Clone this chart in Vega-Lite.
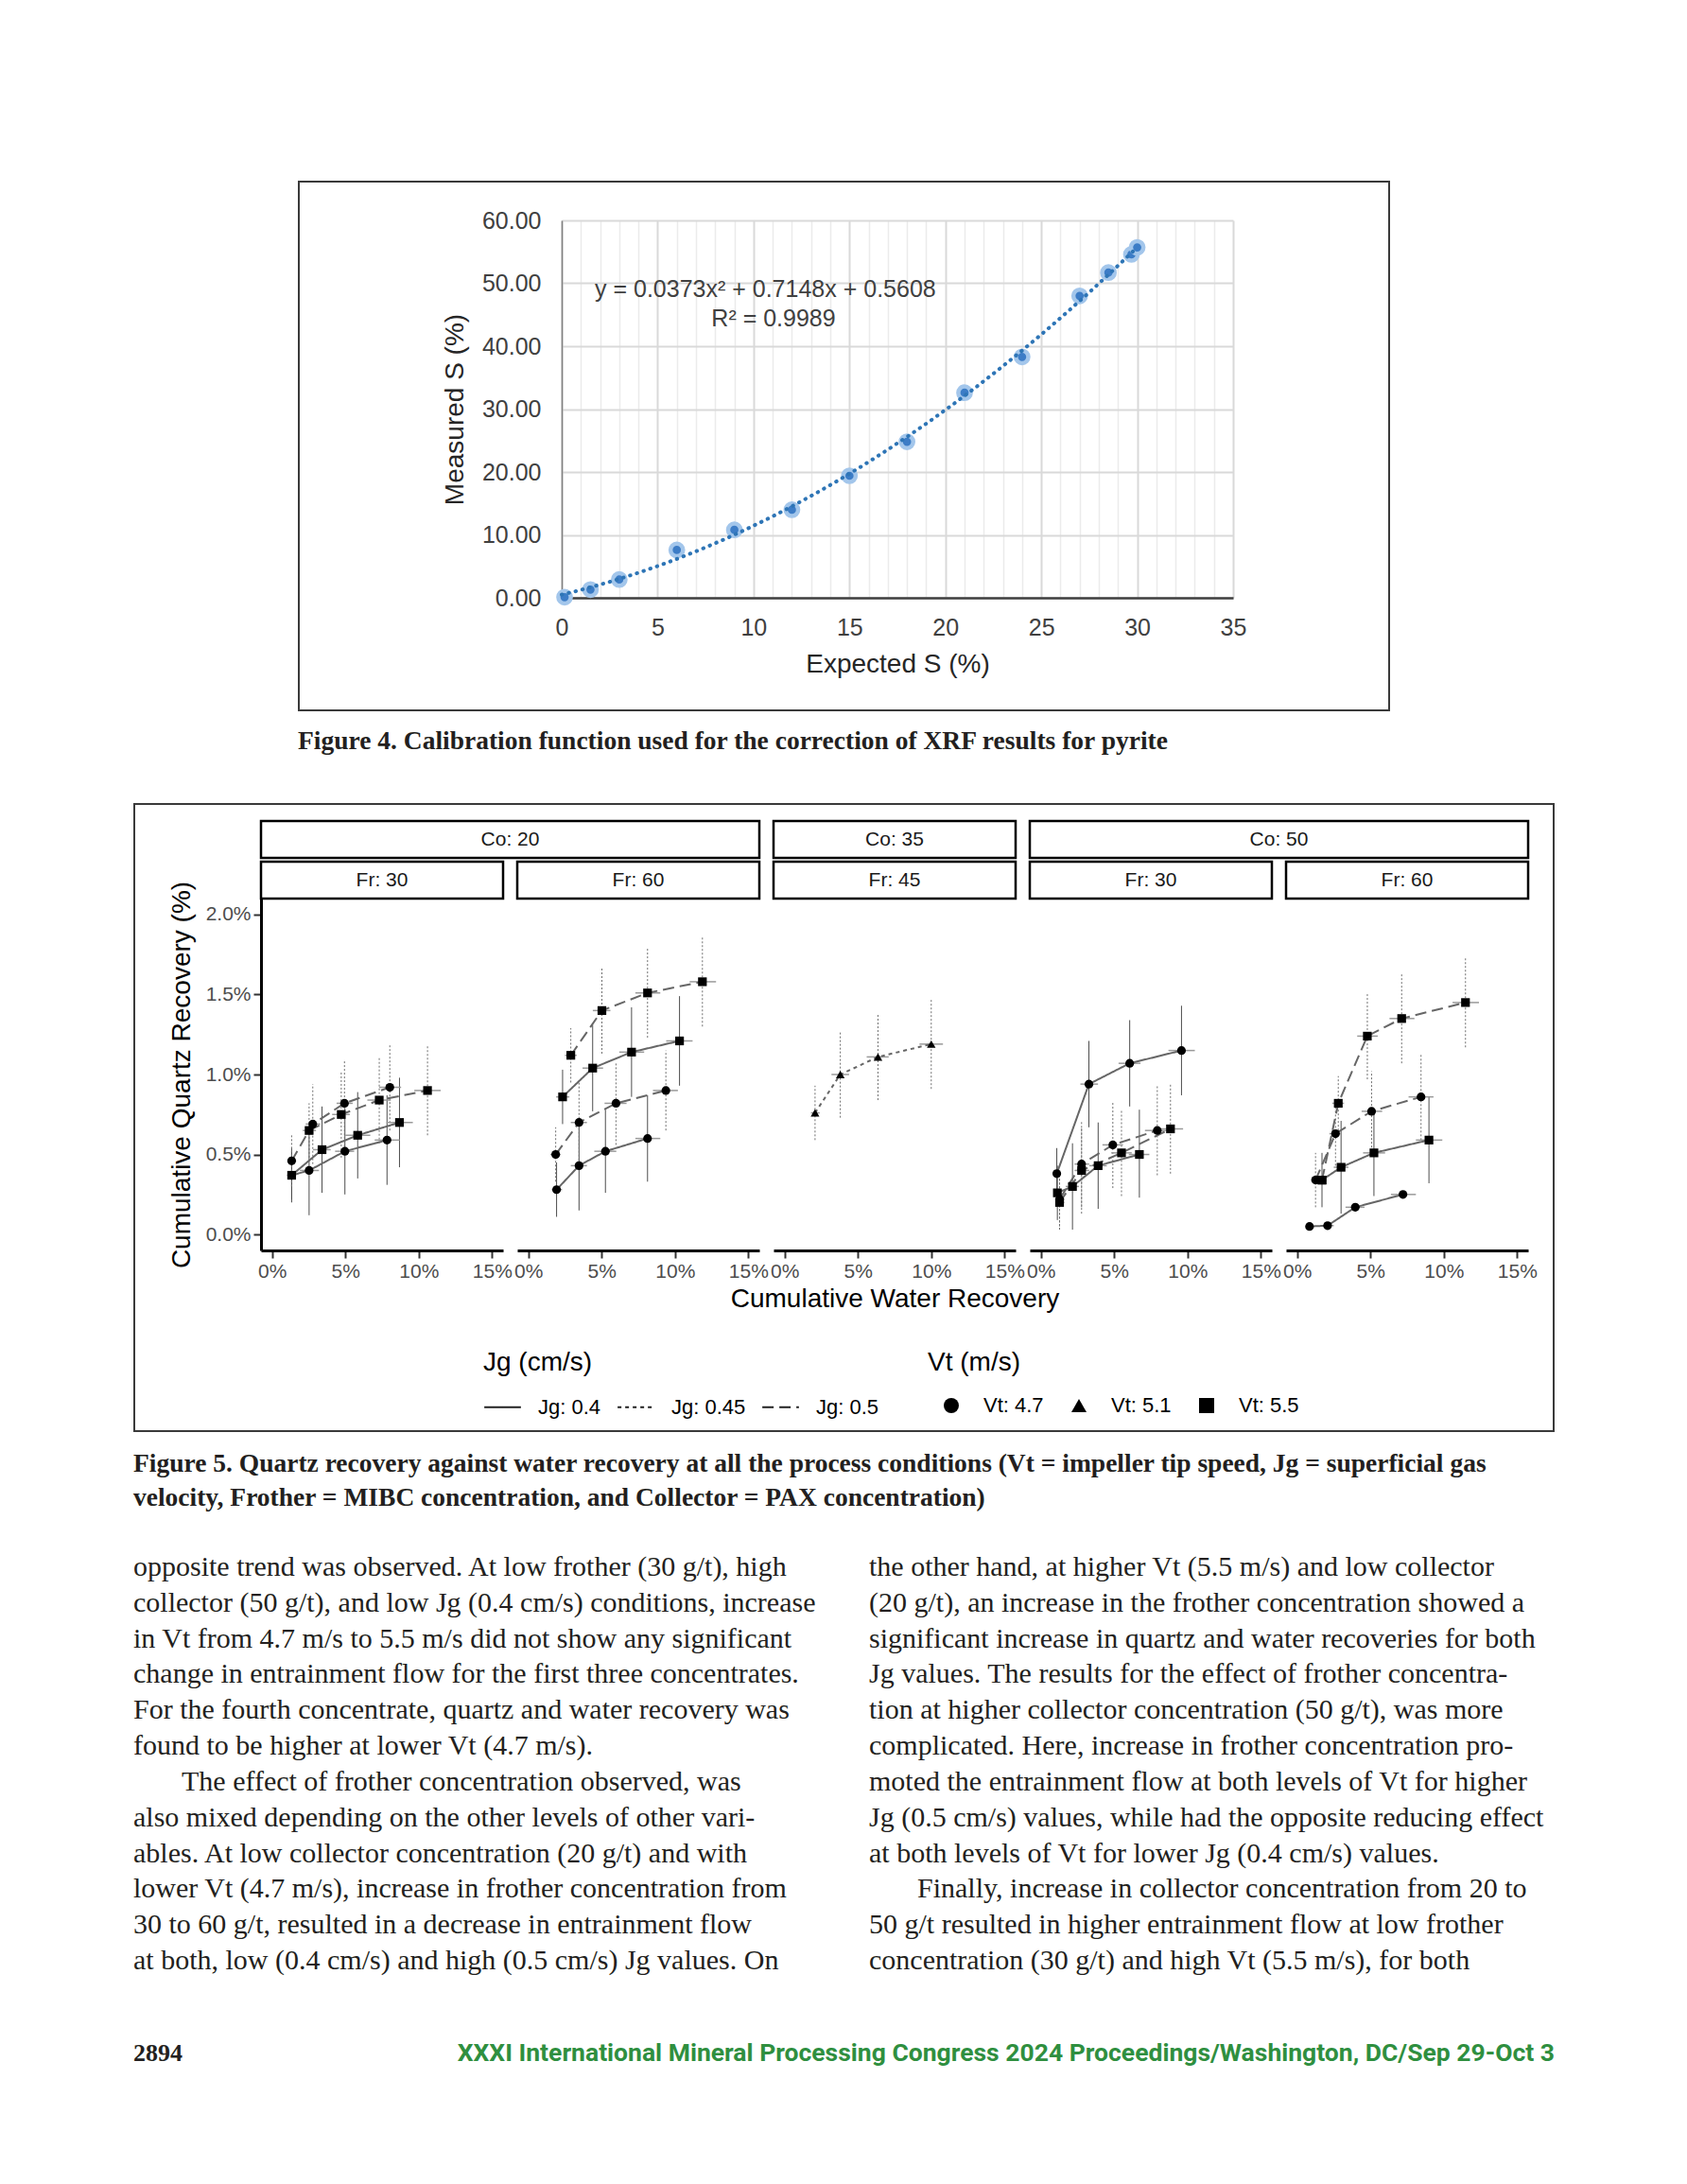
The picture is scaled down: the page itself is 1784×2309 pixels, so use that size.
{
"$schema": "https://vega.github.io/schema/vega-lite/v6.json",
"background": "white",
"padding": 0,
"bounds": "flush",
"spacing": 0,
"data": {"values": []},
"datasets": {
"f4": [
{"es":0.15,"ms":0.1},{"es":1.5,"ms":1.3},{"es":3,"ms":2.9},{"es":6,"ms":7.6},{"es":9,"ms":10.8},{"es":12,"ms":14.0},{"es":15,"ms":19.4},{"es":18,"ms":24.8},{"es":21,"ms":32.6},{"es":24,"ms":38.3},{"es":27,"ms":48.0},{"es":28.5,"ms":51.7},{"es":29.7,"ms":54.6},{"es":30,"ms":55.7}
],
"f5": [
{"p":"A","Jg":"Jg: 0.4","Vt":"Vt: 4.7","x":1.34,"y":0.37,"ylo":0.2,"yhi":0.54,"xlo":1.1,"xhi":1.6},
{"p":"A","Jg":"Jg: 0.4","Vt":"Vt: 4.7","x":2.53,"y":0.4,"ylo":0.12,"yhi":0.68,"xlo":1.9,"xhi":3.2},
{"p":"A","Jg":"Jg: 0.4","Vt":"Vt: 4.7","x":4.97,"y":0.52,"ylo":0.25,"yhi":0.79,"xlo":4.3,"xhi":5.6},
{"p":"A","Jg":"Jg: 0.4","Vt":"Vt: 4.7","x":7.84,"y":0.59,"ylo":0.31,"yhi":0.87,"xlo":7.0,"xhi":8.7},
{"p":"A","Jg":"Jg: 0.4","Vt":"Vt: 5.5","x":1.34,"y":0.37,"ylo":0.22,"yhi":0.52,"xlo":1.1,"xhi":1.6},
{"p":"A","Jg":"Jg: 0.4","Vt":"Vt: 5.5","x":3.41,"y":0.53,"ylo":0.26,"yhi":0.8,"xlo":2.8,"xhi":4.0},
{"p":"A","Jg":"Jg: 0.4","Vt":"Vt: 5.5","x":5.84,"y":0.62,"ylo":0.35,"yhi":0.89,"xlo":5.0,"xhi":6.7},
{"p":"A","Jg":"Jg: 0.4","Vt":"Vt: 5.5","x":8.69,"y":0.7,"ylo":0.42,"yhi":0.98,"xlo":7.8,"xhi":9.6},
{"p":"A","Jg":"Jg: 0.5","Vt":"Vt: 4.7","x":1.34,"y":0.46,"ylo":0.3,"yhi":0.62,"xlo":1.1,"xhi":1.6},
{"p":"A","Jg":"Jg: 0.5","Vt":"Vt: 4.7","x":2.78,"y":0.69,"ylo":0.44,"yhi":0.94,"xlo":2.3,"xhi":3.3},
{"p":"A","Jg":"Jg: 0.5","Vt":"Vt: 4.7","x":4.94,"y":0.82,"ylo":0.55,"yhi":1.09,"xlo":4.4,"xhi":5.5},
{"p":"A","Jg":"Jg: 0.5","Vt":"Vt: 4.7","x":8.03,"y":0.92,"ylo":0.65,"yhi":1.19,"xlo":7.3,"xhi":8.8},
{"p":"A","Jg":"Jg: 0.5","Vt":"Vt: 5.5","x":2.53,"y":0.65,"ylo":0.48,"yhi":0.82,"xlo":2.1,"xhi":3.0},
{"p":"A","Jg":"Jg: 0.5","Vt":"Vt: 5.5","x":4.72,"y":0.75,"ylo":0.48,"yhi":1.02,"xlo":4.1,"xhi":5.3},
{"p":"A","Jg":"Jg: 0.5","Vt":"Vt: 5.5","x":7.31,"y":0.84,"ylo":0.57,"yhi":1.11,"xlo":6.5,"xhi":8.1},
{"p":"A","Jg":"Jg: 0.5","Vt":"Vt: 5.5","x":10.6,"y":0.9,"ylo":0.62,"yhi":1.18,"xlo":9.7,"xhi":11.5},
{"p":"B","Jg":"Jg: 0.5","Vt":"Vt: 5.5","x":2.9,"y":1.12,"ylo":0.95,"yhi":1.29,"xlo":2.5,"xhi":3.3},
{"p":"B","Jg":"Jg: 0.5","Vt":"Vt: 5.5","x":5.02,"y":1.4,"ylo":1.13,"yhi":1.67,"xlo":4.4,"xhi":5.6},
{"p":"B","Jg":"Jg: 0.5","Vt":"Vt: 5.5","x":8.13,"y":1.51,"ylo":1.23,"yhi":1.79,"xlo":7.3,"xhi":9.0},
{"p":"B","Jg":"Jg: 0.5","Vt":"Vt: 5.5","x":11.87,"y":1.58,"ylo":1.3,"yhi":1.86,"xlo":11.0,"xhi":12.8},
{"p":"B","Jg":"Jg: 0.4","Vt":"Vt: 5.5","x":2.34,"y":0.86,"ylo":0.69,"yhi":1.03,"xlo":1.9,"xhi":2.8},
{"p":"B","Jg":"Jg: 0.4","Vt":"Vt: 5.5","x":4.39,"y":1.04,"ylo":0.77,"yhi":1.31,"xlo":3.7,"xhi":5.1},
{"p":"B","Jg":"Jg: 0.4","Vt":"Vt: 5.5","x":7.04,"y":1.14,"ylo":0.86,"yhi":1.42,"xlo":6.2,"xhi":7.9},
{"p":"B","Jg":"Jg: 0.4","Vt":"Vt: 5.5","x":10.31,"y":1.21,"ylo":0.93,"yhi":1.49,"xlo":9.4,"xhi":11.2},
{"p":"B","Jg":"Jg: 0.5","Vt":"Vt: 4.7","x":1.87,"y":0.5,"ylo":0.33,"yhi":0.67,"xlo":1.5,"xhi":2.2},
{"p":"B","Jg":"Jg: 0.5","Vt":"Vt: 4.7","x":3.46,"y":0.7,"ylo":0.44,"yhi":0.96,"xlo":2.9,"xhi":4.0},
{"p":"B","Jg":"Jg: 0.5","Vt":"Vt: 4.7","x":5.98,"y":0.82,"ylo":0.56,"yhi":1.08,"xlo":5.2,"xhi":6.7},
{"p":"B","Jg":"Jg: 0.5","Vt":"Vt: 4.7","x":9.38,"y":0.9,"ylo":0.65,"yhi":1.15,"xlo":8.5,"xhi":10.2},
{"p":"B","Jg":"Jg: 0.4","Vt":"Vt: 4.7","x":1.93,"y":0.28,"ylo":0.11,"yhi":0.45,"xlo":1.6,"xhi":2.3},
{"p":"B","Jg":"Jg: 0.4","Vt":"Vt: 4.7","x":3.46,"y":0.43,"ylo":0.15,"yhi":0.71,"xlo":2.9,"xhi":4.0},
{"p":"B","Jg":"Jg: 0.4","Vt":"Vt: 4.7","x":5.26,"y":0.52,"ylo":0.26,"yhi":0.78,"xlo":4.5,"xhi":6.0},
{"p":"B","Jg":"Jg: 0.4","Vt":"Vt: 4.7","x":8.13,"y":0.6,"ylo":0.33,"yhi":0.87,"xlo":7.3,"xhi":9.0},
{"p":"C","Jg":"Jg: 0.45","Vt":"Vt: 5.1","x":2.08,"y":0.76,"ylo":0.59,"yhi":0.93,"xlo":1.8,"xhi":2.4},
{"p":"C","Jg":"Jg: 0.45","Vt":"Vt: 5.1","x":3.8,"y":1.0,"ylo":0.73,"yhi":1.27,"xlo":3.2,"xhi":4.4},
{"p":"C","Jg":"Jg: 0.45","Vt":"Vt: 5.1","x":6.37,"y":1.11,"ylo":0.84,"yhi":1.38,"xlo":5.6,"xhi":7.1},
{"p":"C","Jg":"Jg: 0.45","Vt":"Vt: 5.1","x":10.0,"y":1.19,"ylo":0.91,"yhi":1.47,"xlo":9.2,"xhi":10.8},
{"p":"D","Jg":"Jg: 0.4","Vt":"Vt: 4.7","x":1.09,"y":0.38,"ylo":0.22,"yhi":0.54,"xlo":0.9,"xhi":1.3},
{"p":"D","Jg":"Jg: 0.4","Vt":"Vt: 4.7","x":3.28,"y":0.94,"ylo":0.67,"yhi":1.21,"xlo":2.7,"xhi":3.9},
{"p":"D","Jg":"Jg: 0.4","Vt":"Vt: 4.7","x":6.06,"y":1.07,"ylo":0.8,"yhi":1.34,"xlo":5.3,"xhi":6.8},
{"p":"D","Jg":"Jg: 0.4","Vt":"Vt: 4.7","x":9.59,"y":1.15,"ylo":0.87,"yhi":1.43,"xlo":8.7,"xhi":10.5},
{"p":"D","Jg":"Jg: 0.4","Vt":"Vt: 5.5","x":1.13,"y":0.26,"ylo":0.09,"yhi":0.43,"xlo":0.9,"xhi":1.4},
{"p":"D","Jg":"Jg: 0.4","Vt":"Vt: 5.5","x":2.16,"y":0.3,"ylo":0.03,"yhi":0.57,"xlo":1.7,"xhi":2.6},
{"p":"D","Jg":"Jg: 0.4","Vt":"Vt: 5.5","x":3.91,"y":0.43,"ylo":0.16,"yhi":0.7,"xlo":3.3,"xhi":4.5},
{"p":"D","Jg":"Jg: 0.4","Vt":"Vt: 5.5","x":6.72,"y":0.5,"ylo":0.23,"yhi":0.78,"xlo":6.0,"xhi":7.4},
{"p":"D","Jg":"Jg: 0.5","Vt":"Vt: 4.7","x":1.28,"y":0.22,"ylo":0.05,"yhi":0.39,"xlo":1.0,"xhi":1.6},
{"p":"D","Jg":"Jg: 0.5","Vt":"Vt: 4.7","x":2.78,"y":0.44,"ylo":0.17,"yhi":0.71,"xlo":2.3,"xhi":3.3},
{"p":"D","Jg":"Jg: 0.5","Vt":"Vt: 4.7","x":4.91,"y":0.56,"ylo":0.29,"yhi":0.83,"xlo":4.2,"xhi":5.6},
{"p":"D","Jg":"Jg: 0.5","Vt":"Vt: 4.7","x":7.94,"y":0.65,"ylo":0.37,"yhi":0.93,"xlo":7.1,"xhi":8.8},
{"p":"D","Jg":"Jg: 0.5","Vt":"Vt: 5.5","x":1.28,"y":0.2,"ylo":0.03,"yhi":0.37,"xlo":1.0,"xhi":1.6},
{"p":"D","Jg":"Jg: 0.5","Vt":"Vt: 5.5","x":2.78,"y":0.4,"ylo":0.13,"yhi":0.67,"xlo":2.3,"xhi":3.3},
{"p":"D","Jg":"Jg: 0.5","Vt":"Vt: 5.5","x":5.5,"y":0.51,"ylo":0.24,"yhi":0.78,"xlo":4.8,"xhi":6.2},
{"p":"D","Jg":"Jg: 0.5","Vt":"Vt: 5.5","x":8.84,"y":0.66,"ylo":0.38,"yhi":0.94,"xlo":8.0,"xhi":9.7},
{"p":"E","Jg":"Jg: 0.4","Vt":"Vt: 4.7","x":0.85,"y":0.05,"ylo":0.05,"yhi":0.05,"xlo":0.6,"xhi":1.1},
{"p":"E","Jg":"Jg: 0.4","Vt":"Vt: 4.7","x":2.08,"y":0.055,"ylo":0.055,"yhi":0.055,"xlo":1.7,"xhi":2.5},
{"p":"E","Jg":"Jg: 0.4","Vt":"Vt: 4.7","x":3.97,"y":0.17,"ylo":0.17,"yhi":0.17,"xlo":3.3,"xhi":4.6},
{"p":"E","Jg":"Jg: 0.4","Vt":"Vt: 4.7","x":7.22,"y":0.25,"ylo":0.25,"yhi":0.25,"xlo":6.4,"xhi":8.1},
{"p":"E","Jg":"Jg: 0.4","Vt":"Vt: 5.5","x":1.7,"y":0.34,"ylo":0.17,"yhi":0.51,"xlo":1.4,"xhi":2.0},
{"p":"E","Jg":"Jg: 0.4","Vt":"Vt: 5.5","x":3.0,"y":0.42,"ylo":0.13,"yhi":0.71,"xlo":2.5,"xhi":3.5},
{"p":"E","Jg":"Jg: 0.4","Vt":"Vt: 5.5","x":5.24,"y":0.51,"ylo":0.24,"yhi":0.78,"xlo":4.5,"xhi":6.0},
{"p":"E","Jg":"Jg: 0.4","Vt":"Vt: 5.5","x":8.99,"y":0.59,"ylo":0.32,"yhi":0.86,"xlo":8.1,"xhi":9.9},
{"p":"E","Jg":"Jg: 0.5","Vt":"Vt: 4.7","x":1.26,"y":0.34,"ylo":0.17,"yhi":0.51,"xlo":1.0,"xhi":1.5},
{"p":"E","Jg":"Jg: 0.5","Vt":"Vt: 4.7","x":2.62,"y":0.63,"ylo":0.43,"yhi":0.83,"xlo":2.2,"xhi":3.0},
{"p":"E","Jg":"Jg: 0.5","Vt":"Vt: 4.7","x":5.08,"y":0.77,"ylo":0.52,"yhi":1.02,"xlo":4.4,"xhi":5.8},
{"p":"E","Jg":"Jg: 0.5","Vt":"Vt: 4.7","x":8.45,"y":0.86,"ylo":0.59,"yhi":1.13,"xlo":7.6,"xhi":9.3},
{"p":"E","Jg":"Jg: 0.5","Vt":"Vt: 5.5","x":1.7,"y":0.34,"ylo":0.34,"yhi":0.34,"xlo":1.7,"xhi":1.7},
{"p":"E","Jg":"Jg: 0.5","Vt":"Vt: 5.5","x":2.81,"y":0.82,"ylo":0.65,"yhi":0.99,"xlo":2.4,"xhi":3.2},
{"p":"E","Jg":"Jg: 0.5","Vt":"Vt: 5.5","x":4.79,"y":1.24,"ylo":0.97,"yhi":1.51,"xlo":4.1,"xhi":5.5},
{"p":"E","Jg":"Jg: 0.5","Vt":"Vt: 5.5","x":7.13,"y":1.35,"ylo":1.07,"yhi":1.63,"xlo":6.3,"xhi":8.0},
{"p":"E","Jg":"Jg: 0.5","Vt":"Vt: 5.5","x":11.48,"y":1.45,"ylo":1.17,"yhi":1.73,"xlo":10.6,"xhi":12.4}
]
},
"config": {"view": {"stroke": null}, "concat": {"spacing": 0}, "font": "Liberation Sans"},
"vconcat": [
{"width": 1784, "height": 191, "mark": "point", "view": {"fill": "white"}},
{"bounds": "flush", "hconcat": [{"width": 315, "height": 2, "mark": "point"}, {"width": 1155, "height": 2, "mark": "point", "view": {"fill": "#3a3a3a"}}]},
{"width": 1784, "height": 2, "mark": "point"},
{"bounds": "flush", "hconcat": [
  {"width": 315, "height": 557, "mark": "point"},
  {"width": 2, "height": 557, "mark": "point", "view": {"fill": "#3a3a3a"}},
  {"width": 277, "height": 557, "mark": "point"},
  {"bounds": "flush", "vconcat": [
    {"width": 710, "height": 40, "mark": "point"},
    {"width": 710, "height": 399, "data": {"name": "f4"},
     "resolve": {"axis": {"x": "independent"}},
     "layer": [
      {"mark": {"type": "point", "filled": true, "fill": "#3C7CC6", "stroke": "#A3C6EB", "strokeWidth": 4.5, "size": 175, "opacity": 1},
       "encoding": {
        "x": {"field": "es", "type": "quantitative", "scale": {"domain": [0, 35], "nice": false, "zero": false},
              "axis": {"orient": "bottom", "values": [0,5,10,15,20,25,30,35], "format": "d", "ticks": false, "domain": true, "domainColor": "#404040", "domainWidth": 2.5, "grid": true, "gridColor": "#D9D9D9", "gridWidth": 2, "labelFontSize": 25, "labelColor": "#404040", "labelPadding": 19, "labelFlush": false, "labelOverlap": false, "title": "Expected S (%)", "titleFontSize": 28, "titleFontWeight": "normal", "titleColor": "#262626", "titlePadding": 12}},
        "y": {"field": "ms", "type": "quantitative", "scale": {"domain": [0, 60], "nice": false, "zero": false},
              "axis": {"values": [0,10,20,30,40,50,60], "format": ".2f", "ticks": false, "domain": true, "domainColor": "#7F7F7F", "domainWidth": 1.5, "grid": true, "gridColor": "#D9D9D9", "gridWidth": 2, "labelFontSize": 25, "labelColor": "#404040", "labelPadding": 22, "labelFlush": false, "labelOverlap": false, "title": "Measured S (%)", "titleFontSize": 28, "titleFontWeight": "normal", "titleColor": "#262626", "titlePadding": 14}}
       }},
      {"transform": [{"regression": "ms", "on": "es", "method": "poly", "order": 2, "extent": [0, 30]}],
       "mark": {"type": "line", "color": "#2E75B6", "strokeWidth": 4, "strokeDash": [0.5, 7], "strokeCap": "round"},
       "encoding": {
        "x": {"field": "es", "type": "quantitative", "scale": {"domain": [0, 35], "nice": false, "zero": false},
              "axis": {"orient": "top", "values": [1,2,3,4,6,7,8,9,11,12,13,14,16,17,18,19,21,22,23,24,26,27,28,29,31,32,33,34], "grid": true, "gridColor": "#EBEBEB", "gridWidth": 1.5, "labels": false, "ticks": false, "domain": false, "title": null}},
        "y": {"field": "ms", "type": "quantitative", "scale": {"domain": [0, 60], "nice": false, "zero": false},
              "axis": {"values": [0,10,20,30,40,50,60], "format": ".2f", "ticks": false, "domain": true, "domainColor": "#7F7F7F", "domainWidth": 1.5, "grid": true, "gridColor": "#D9D9D9", "gridWidth": 2, "labelFontSize": 25, "labelColor": "#404040", "labelPadding": 22, "labelFlush": false, "labelOverlap": false, "title": "Measured S (%)", "titleFontSize": 28, "titleFontWeight": "normal", "titleColor": "#262626", "titlePadding": 14}}
       }}
     ]},
    {"width": 710, "height": 118, "mark": "point"}
  ]},
  {"bounds": "flush", "vconcat": [
    {"width": 10, "height": 113, "mark": "point"},
    {"bounds": "flush", "hconcat": [
      {"width": 35, "height": 31, "mark": "point"},
      {"width": 189, "height": 31, "data": {"values": [{"col": 0, "line": 1, "t": "y = 0.0373x² + 0.7148x + 0.5608"}, {"col": 1, "line": 2, "t": "R² = 0.9989"}]},
       "encoding": {"x": {"field": "col", "type": "quantitative", "scale": {"domain": [0, 1], "nice": false, "zero": false}, "axis": null},
                    "y": {"field": "line", "type": "quantitative", "scale": {"domain": [1, 2], "reverse": true, "nice": false, "zero": false}, "axis": null},
                    "text": {"field": "t"}},
       "layer": [
        {"transform": [{"filter": "datum.col == 0"}], "mark": {"type": "text", "align": "left", "baseline": "middle", "fontSize": 25, "color": "#404040"}},
        {"transform": [{"filter": "datum.col == 1"}], "mark": {"type": "text", "align": "center", "baseline": "middle", "fontSize": 25, "color": "#404040"}}
       ]}
    ]}
  ]},
  {"width": 874, "height": 557, "mark": "point"},
  {"width": 2, "height": 557, "mark": "point", "view": {"fill": "#3a3a3a"}}
]},
{"width": 1784, "height": 557, "mark": "point"},
{"bounds": "flush", "hconcat": [{"width": 315, "height": 2, "mark": "point"}, {"width": 1155, "height": 2, "mark": "point", "view": {"fill": "#3a3a3a"}}]},
{"width": 1784, "height": 2, "mark": "point"},
{"width": 1784, "height": 32, "mark": "point"},
{"bounds": "flush", "hconcat": [{"width": 315, "height": 10, "mark": "point"},
  {"width": 1, "height": 10, "data": {"values": [{"col": 0, "line": 1, "t": "Figure 4. Calibration function used for the correction of XRF results for pyrite"}]},
   "mark": {"type": "text", "align": "left", "baseline": "middle", "font": "Liberation Serif", "fontWeight": "bold", "fontSize": 27.5, "color": "#231f20"},
   "encoding": {"x": {"field": "col", "type": "quantitative", "scale": {"domain": [0, 1], "nice": false, "zero": false}, "axis": null},
                "y": {"field": "line", "type": "quantitative", "scale": {"domain": [1, 2], "reverse": true, "nice": false, "zero": false}, "axis": null},
                "text": {"field": "t"}}}
]},
{"width": 1784, "height": 65, "mark": "point"},
{"bounds": "flush", "hconcat": [{"width": 141, "height": 2, "mark": "point"}, {"width": 1503, "height": 2, "mark": "point", "view": {"fill": "#3a3a3a"}}]},
{"width": 1784, "height": 2, "mark": "point"},
{"bounds": "flush", "hconcat": [
  {"width": 141, "height": 661, "mark": "point"},
  {"width": 2, "height": 661, "mark": "point", "view": {"fill": "#3a3a3a"}},
  {"width": 133, "height": 661, "mark": "point"},
  {"bounds": "flush", "vconcat": [
    {"width": 1340, "height": 17, "mark": "point"},
    {"bounds": "flush", "spacing": 15, "hconcat": [
      {"width": 527, "height": 39, "data": {"values": [{"s": "Co: 20"}]}, "mark": {"type": "text", "fontSize": 21, "color": "#1a1a1a", "baseline": "middle", "align": "center"}, "encoding": {"text": {"field": "s"}}, "view": {"stroke": "black", "strokeWidth": 2.5, "fill": "white"}},
      {"width": 256, "height": 39, "data": {"values": [{"s": "Co: 35"}]}, "mark": {"type": "text", "fontSize": 21, "color": "#1a1a1a", "baseline": "middle", "align": "center"}, "encoding": {"text": {"field": "s"}}, "view": {"stroke": "black", "strokeWidth": 2.5, "fill": "white"}},
      {"width": 527, "height": 39, "data": {"values": [{"s": "Co: 50"}]}, "mark": {"type": "text", "fontSize": 21, "color": "#1a1a1a", "baseline": "middle", "align": "center"}, "encoding": {"text": {"field": "s"}}, "view": {"stroke": "black", "strokeWidth": 2.5, "fill": "white"}}
    ]},
    {"width": 1340, "height": 43, "mark": "point"},
    {"bounds": "flush", "spacing": 15, "hconcat": [
      {"width": 256, "height": 39, "data": {"values": [{"s": "Fr: 30"}]}, "mark": {"type": "text", "fontSize": 21, "color": "#1a1a1a", "baseline": "middle", "align": "center"}, "encoding": {"text": {"field": "s"}}, "view": {"stroke": "black", "strokeWidth": 2.5, "fill": "white"}},
      {"width": 256, "height": 39, "data": {"values": [{"s": "Fr: 60"}]}, "mark": {"type": "text", "fontSize": 21, "color": "#1a1a1a", "baseline": "middle", "align": "center"}, "encoding": {"text": {"field": "s"}}, "view": {"stroke": "black", "strokeWidth": 2.5, "fill": "white"}},
      {"width": 256, "height": 39, "data": {"values": [{"s": "Fr: 45"}]}, "mark": {"type": "text", "fontSize": 21, "color": "#1a1a1a", "baseline": "middle", "align": "center"}, "encoding": {"text": {"field": "s"}}, "view": {"stroke": "black", "strokeWidth": 2.5, "fill": "white"}},
      {"width": 256, "height": 39, "data": {"values": [{"s": "Fr: 30"}]}, "mark": {"type": "text", "fontSize": 21, "color": "#1a1a1a", "baseline": "middle", "align": "center"}, "encoding": {"text": {"field": "s"}}, "view": {"stroke": "black", "strokeWidth": 2.5, "fill": "white"}},
      {"width": 256, "height": 39, "data": {"values": [{"s": "Fr: 60"}]}, "mark": {"type": "text", "fontSize": 21, "color": "#1a1a1a", "baseline": "middle", "align": "center"}, "encoding": {"text": {"field": "s"}}, "view": {"stroke": "black", "strokeWidth": 2.5, "fill": "white"}}
    ]},
    {"width": 1340, "height": 39, "mark": "point"},
    {"bounds": "flush", "spacing": 15,
     "resolve": {"scale": {"shape": "independent", "strokeDash": "independent"}, "legend": {"shape": "independent", "strokeDash": "independent"}},
     "hconcat": [
      {"width": 256, "height": 372, "data": {"name": "f5"}, "transform": [{"filter": "datum.p == 'A'"}],
       "layer": [
        {"transform": [{"filter": "datum.Jg == 'Jg: 0.4'"}], "mark": {"type": "rule", "color": "#4d4d4d", "strokeWidth": 1},
         "encoding": {
          "x": {"field": "x", "type": "quantitative", "scale": {"domain": [-0.75, 15.75], "nice": false, "zero": false}, "axis": {"values": [0,5,10,15], "labelExpr": "datum.value + '%'", "domain": true, "domainColor": "black", "domainWidth": 3, "tickColor": "#333333", "tickWidth": 2, "tickSize": 8, "labelFontSize": 21, "labelColor": "#4d4d4d", "labelPadding": 3, "labelFlush": false, "labelOverlap": false, "labelBound": false, "grid": false, "title": null}},
          "y": {"field": "ylo", "type": "quantitative", "scale": {"domain": [-0.1, 2.1], "nice": false, "zero": false}, "axis": {"values": [0,0.5,1,1.5,2], "labelExpr": "format(datum.value, '.1f') + '%'", "domain": true, "domainColor": "black", "domainWidth": 3, "tickColor": "#333333", "tickWidth": 2, "tickSize": 8, "labelFontSize": 21, "labelColor": "#4d4d4d", "labelPadding": 3, "labelFlush": false, "labelOverlap": false, "grid": false, "title": "Cumulative Quartz Recovery (%)", "titleFontSize": 28, "titleFontWeight": "normal", "titleColor": "black", "titlePadding": 11}},
          "y2": {"field": "yhi"}}},
        {"transform": [{"filter": "datum.Jg != 'Jg: 0.4'"}], "mark": {"type": "rule", "color": "#6e6e6e", "strokeWidth": 1, "strokeDash": [2, 2]},
         "encoding": {
          "x": {"field": "x", "type": "quantitative", "scale": {"domain": [-0.75, 15.75], "nice": false, "zero": false}, "axis": {"values": [0,5,10,15], "labelExpr": "datum.value + '%'", "domain": true, "domainColor": "black", "domainWidth": 3, "tickColor": "#333333", "tickWidth": 2, "tickSize": 8, "labelFontSize": 21, "labelColor": "#4d4d4d", "labelPadding": 3, "labelFlush": false, "labelOverlap": false, "labelBound": false, "grid": false, "title": null}},
          "y": {"field": "ylo", "type": "quantitative", "scale": {"domain": [-0.1, 2.1], "nice": false, "zero": false}, "axis": {"values": [0,0.5,1,1.5,2], "labelExpr": "format(datum.value, '.1f') + '%'", "domain": true, "domainColor": "black", "domainWidth": 3, "tickColor": "#333333", "tickWidth": 2, "tickSize": 8, "labelFontSize": 21, "labelColor": "#4d4d4d", "labelPadding": 3, "labelFlush": false, "labelOverlap": false, "grid": false, "title": "Cumulative Quartz Recovery (%)", "titleFontSize": 28, "titleFontWeight": "normal", "titleColor": "black", "titlePadding": 11}},
          "y2": {"field": "yhi"}}},
        {"mark": {"type": "rule", "color": "#9a9a9a", "strokeWidth": 1.5},
         "encoding": {
          "x": {"field": "xlo", "type": "quantitative", "scale": {"domain": [-0.75, 15.75], "nice": false, "zero": false}, "axis": {"values": [0,5,10,15], "labelExpr": "datum.value + '%'", "domain": true, "domainColor": "black", "domainWidth": 3, "tickColor": "#333333", "tickWidth": 2, "tickSize": 8, "labelFontSize": 21, "labelColor": "#4d4d4d", "labelPadding": 3, "labelFlush": false, "labelOverlap": false, "labelBound": false, "grid": false, "title": null}},
          "x2": {"field": "xhi"},
          "y": {"field": "y", "type": "quantitative", "scale": {"domain": [-0.1, 2.1], "nice": false, "zero": false}, "axis": {"values": [0,0.5,1,1.5,2], "labelExpr": "format(datum.value, '.1f') + '%'", "domain": true, "domainColor": "black", "domainWidth": 3, "tickColor": "#333333", "tickWidth": 2, "tickSize": 8, "labelFontSize": 21, "labelColor": "#4d4d4d", "labelPadding": 3, "labelFlush": false, "labelOverlap": false, "grid": false, "title": "Cumulative Quartz Recovery (%)", "titleFontSize": 28, "titleFontWeight": "normal", "titleColor": "black", "titlePadding": 11}}}},
        {"mark": {"type": "line", "color": "#666666", "strokeWidth": 2},
         "encoding": {
          "x": {"field": "x", "type": "quantitative", "scale": {"domain": [-0.75, 15.75], "nice": false, "zero": false}, "axis": {"values": [0,5,10,15], "labelExpr": "datum.value + '%'", "domain": true, "domainColor": "black", "domainWidth": 3, "tickColor": "#333333", "tickWidth": 2, "tickSize": 8, "labelFontSize": 21, "labelColor": "#4d4d4d", "labelPadding": 3, "labelFlush": false, "labelOverlap": false, "labelBound": false, "grid": false, "title": null}},
          "y": {"field": "y", "type": "quantitative", "scale": {"domain": [-0.1, 2.1], "nice": false, "zero": false}, "axis": {"values": [0,0.5,1,1.5,2], "labelExpr": "format(datum.value, '.1f') + '%'", "domain": true, "domainColor": "black", "domainWidth": 3, "tickColor": "#333333", "tickWidth": 2, "tickSize": 8, "labelFontSize": 21, "labelColor": "#4d4d4d", "labelPadding": 3, "labelFlush": false, "labelOverlap": false, "grid": false, "title": "Cumulative Quartz Recovery (%)", "titleFontSize": 28, "titleFontWeight": "normal", "titleColor": "black", "titlePadding": 11}},
          "strokeDash": {"field": "Jg", "type": "nominal", "scale": {"domain": ["Jg: 0.4", "Jg: 0.45", "Jg: 0.5"], "range": [[1, 0], [4, 4], [12, 6]]},
                "legend": {"orient": "none", "legendX": 235, "legendY": 477, "direction": "horizontal", "title": "Jg (cm/s)", "titleOrient": "top", "titleAnchor": "start", "titleFontSize": 28, "titleFontWeight": "normal", "titleColor": "black", "titlePadding": 12, "labelFontSize": 22, "labelColor": "black", "labelOffset": 17, "columnPadding": 13, "symbolType": "stroke", "symbolSize": 1500, "symbolStrokeWidth": 2, "symbolStrokeColor": "#222222", "padding": 0}},
          "detail": {"field": "Vt"}}},
        {"mark": {"type": "point", "filled": true, "color": "black", "size": 85, "opacity": 1},
         "encoding": {
          "x": {"field": "x", "type": "quantitative", "scale": {"domain": [-0.75, 15.75], "nice": false, "zero": false}, "axis": {"values": [0,5,10,15], "labelExpr": "datum.value + '%'", "domain": true, "domainColor": "black", "domainWidth": 3, "tickColor": "#333333", "tickWidth": 2, "tickSize": 8, "labelFontSize": 21, "labelColor": "#4d4d4d", "labelPadding": 3, "labelFlush": false, "labelOverlap": false, "labelBound": false, "grid": false, "title": null}},
          "y": {"field": "y", "type": "quantitative", "scale": {"domain": [-0.1, 2.1], "nice": false, "zero": false}, "axis": {"values": [0,0.5,1,1.5,2], "labelExpr": "format(datum.value, '.1f') + '%'", "domain": true, "domainColor": "black", "domainWidth": 3, "tickColor": "#333333", "tickWidth": 2, "tickSize": 8, "labelFontSize": 21, "labelColor": "#4d4d4d", "labelPadding": 3, "labelFlush": false, "labelOverlap": false, "grid": false, "title": "Cumulative Quartz Recovery (%)", "titleFontSize": 28, "titleFontWeight": "normal", "titleColor": "black", "titlePadding": 11}},
          "shape": {"field": "Vt", "type": "nominal", "scale": {"domain": ["Vt: 4.7", "Vt: 5.1", "Vt: 5.5"], "range": ["circle", "triangle-up", "square"]},
                "legend": {"orient": "none", "legendX": 705, "legendY": 477, "direction": "horizontal", "title": "Vt (m/s)", "titleOrient": "top", "titleAnchor": "start", "titleFontSize": 28, "titleFontWeight": "normal", "titleColor": "black", "titlePadding": 20, "labelFontSize": 22, "labelColor": "black", "labelOffset": 23, "columnPadding": 12, "symbolSize": 256, "symbolOffset": 14, "symbolFillColor": "black", "symbolStrokeColor": "black", "padding": 0}}}}
       ]},
      {"width": 256, "height": 372, "data": {"name": "f5"}, "transform": [{"filter": "datum.p == 'B'"}],
       "layer": [
        {"transform": [{"filter": "datum.Jg == 'Jg: 0.4'"}], "mark": {"type": "rule", "color": "#4d4d4d", "strokeWidth": 1},
         "encoding": {
          "x": {"field": "x", "type": "quantitative", "scale": {"domain": [-0.75, 15.75], "nice": false, "zero": false}, "axis": {"values": [0,5,10,15], "labelExpr": "datum.value + '%'", "domain": true, "domainColor": "black", "domainWidth": 3, "tickColor": "#333333", "tickWidth": 2, "tickSize": 8, "labelFontSize": 21, "labelColor": "#4d4d4d", "labelPadding": 3, "labelFlush": false, "labelOverlap": false, "labelBound": false, "grid": false, "title": null}},
          "y": {"field": "ylo", "type": "quantitative", "scale": {"domain": [-0.1, 2.1], "nice": false, "zero": false}, "axis": null},
          "y2": {"field": "yhi"}}},
        {"transform": [{"filter": "datum.Jg != 'Jg: 0.4'"}], "mark": {"type": "rule", "color": "#6e6e6e", "strokeWidth": 1, "strokeDash": [2, 2]},
         "encoding": {
          "x": {"field": "x", "type": "quantitative", "scale": {"domain": [-0.75, 15.75], "nice": false, "zero": false}, "axis": {"values": [0,5,10,15], "labelExpr": "datum.value + '%'", "domain": true, "domainColor": "black", "domainWidth": 3, "tickColor": "#333333", "tickWidth": 2, "tickSize": 8, "labelFontSize": 21, "labelColor": "#4d4d4d", "labelPadding": 3, "labelFlush": false, "labelOverlap": false, "labelBound": false, "grid": false, "title": null}},
          "y": {"field": "ylo", "type": "quantitative", "scale": {"domain": [-0.1, 2.1], "nice": false, "zero": false}, "axis": null},
          "y2": {"field": "yhi"}}},
        {"mark": {"type": "rule", "color": "#9a9a9a", "strokeWidth": 1.5},
         "encoding": {
          "x": {"field": "xlo", "type": "quantitative", "scale": {"domain": [-0.75, 15.75], "nice": false, "zero": false}, "axis": {"values": [0,5,10,15], "labelExpr": "datum.value + '%'", "domain": true, "domainColor": "black", "domainWidth": 3, "tickColor": "#333333", "tickWidth": 2, "tickSize": 8, "labelFontSize": 21, "labelColor": "#4d4d4d", "labelPadding": 3, "labelFlush": false, "labelOverlap": false, "labelBound": false, "grid": false, "title": null}},
          "x2": {"field": "xhi"},
          "y": {"field": "y", "type": "quantitative", "scale": {"domain": [-0.1, 2.1], "nice": false, "zero": false}, "axis": null}}},
        {"mark": {"type": "line", "color": "#666666", "strokeWidth": 2},
         "encoding": {
          "x": {"field": "x", "type": "quantitative", "scale": {"domain": [-0.75, 15.75], "nice": false, "zero": false}, "axis": {"values": [0,5,10,15], "labelExpr": "datum.value + '%'", "domain": true, "domainColor": "black", "domainWidth": 3, "tickColor": "#333333", "tickWidth": 2, "tickSize": 8, "labelFontSize": 21, "labelColor": "#4d4d4d", "labelPadding": 3, "labelFlush": false, "labelOverlap": false, "labelBound": false, "grid": false, "title": null}},
          "y": {"field": "y", "type": "quantitative", "scale": {"domain": [-0.1, 2.1], "nice": false, "zero": false}, "axis": null},
          "strokeDash": {"field": "Jg", "type": "nominal", "scale": {"domain": ["Jg: 0.4", "Jg: 0.45", "Jg: 0.5"], "range": [[1, 0], [4, 4], [12, 6]]}, "legend": null},
          "detail": {"field": "Vt"}}},
        {"mark": {"type": "point", "filled": true, "color": "black", "size": 85, "opacity": 1},
         "encoding": {
          "x": {"field": "x", "type": "quantitative", "scale": {"domain": [-0.75, 15.75], "nice": false, "zero": false}, "axis": {"values": [0,5,10,15], "labelExpr": "datum.value + '%'", "domain": true, "domainColor": "black", "domainWidth": 3, "tickColor": "#333333", "tickWidth": 2, "tickSize": 8, "labelFontSize": 21, "labelColor": "#4d4d4d", "labelPadding": 3, "labelFlush": false, "labelOverlap": false, "labelBound": false, "grid": false, "title": null}},
          "y": {"field": "y", "type": "quantitative", "scale": {"domain": [-0.1, 2.1], "nice": false, "zero": false}, "axis": null},
          "shape": {"field": "Vt", "type": "nominal", "scale": {"domain": ["Vt: 4.7", "Vt: 5.1", "Vt: 5.5"], "range": ["circle", "triangle-up", "square"]}, "legend": null}}}
       ]},
      {"width": 256, "height": 372, "data": {"name": "f5"}, "transform": [{"filter": "datum.p == 'C'"}],
       "layer": [
        {"mark": {"type": "rule", "color": "#6e6e6e", "strokeWidth": 1, "strokeDash": [2, 2]},
         "encoding": {
          "x": {"field": "x", "type": "quantitative", "scale": {"domain": [-0.75, 15.75], "nice": false, "zero": false}, "axis": {"values": [0,5,10,15], "labelExpr": "datum.value + '%'", "domain": true, "domainColor": "black", "domainWidth": 3, "tickColor": "#333333", "tickWidth": 2, "tickSize": 8, "labelFontSize": 21, "labelColor": "#4d4d4d", "labelPadding": 3, "labelFlush": false, "labelOverlap": false, "labelBound": false, "grid": false, "title": "Cumulative Water Recovery", "titleFontSize": 28, "titleFontWeight": "normal", "titleColor": "black", "titlePadding": 5}},
          "y": {"field": "ylo", "type": "quantitative", "scale": {"domain": [-0.1, 2.1], "nice": false, "zero": false}, "axis": null},
          "y2": {"field": "yhi"}}},
        {"mark": {"type": "rule", "color": "#9a9a9a", "strokeWidth": 1.5},
         "encoding": {
          "x": {"field": "xlo", "type": "quantitative", "scale": {"domain": [-0.75, 15.75], "nice": false, "zero": false}, "axis": {"values": [0,5,10,15], "labelExpr": "datum.value + '%'", "domain": true, "domainColor": "black", "domainWidth": 3, "tickColor": "#333333", "tickWidth": 2, "tickSize": 8, "labelFontSize": 21, "labelColor": "#4d4d4d", "labelPadding": 3, "labelFlush": false, "labelOverlap": false, "labelBound": false, "grid": false, "title": "Cumulative Water Recovery", "titleFontSize": 28, "titleFontWeight": "normal", "titleColor": "black", "titlePadding": 5}},
          "x2": {"field": "xhi"},
          "y": {"field": "y", "type": "quantitative", "scale": {"domain": [-0.1, 2.1], "nice": false, "zero": false}, "axis": null}}},
        {"mark": {"type": "line", "color": "#666666", "strokeWidth": 2},
         "encoding": {
          "x": {"field": "x", "type": "quantitative", "scale": {"domain": [-0.75, 15.75], "nice": false, "zero": false}, "axis": {"values": [0,5,10,15], "labelExpr": "datum.value + '%'", "domain": true, "domainColor": "black", "domainWidth": 3, "tickColor": "#333333", "tickWidth": 2, "tickSize": 8, "labelFontSize": 21, "labelColor": "#4d4d4d", "labelPadding": 3, "labelFlush": false, "labelOverlap": false, "labelBound": false, "grid": false, "title": "Cumulative Water Recovery", "titleFontSize": 28, "titleFontWeight": "normal", "titleColor": "black", "titlePadding": 5}},
          "y": {"field": "y", "type": "quantitative", "scale": {"domain": [-0.1, 2.1], "nice": false, "zero": false}, "axis": null},
          "strokeDash": {"field": "Jg", "type": "nominal", "scale": {"domain": ["Jg: 0.4", "Jg: 0.45", "Jg: 0.5"], "range": [[1, 0], [4, 4], [12, 6]]}, "legend": null},
          "detail": {"field": "Vt"}}},
        {"mark": {"type": "point", "filled": true, "color": "black", "size": 85, "opacity": 1},
         "encoding": {
          "x": {"field": "x", "type": "quantitative", "scale": {"domain": [-0.75, 15.75], "nice": false, "zero": false}, "axis": {"values": [0,5,10,15], "labelExpr": "datum.value + '%'", "domain": true, "domainColor": "black", "domainWidth": 3, "tickColor": "#333333", "tickWidth": 2, "tickSize": 8, "labelFontSize": 21, "labelColor": "#4d4d4d", "labelPadding": 3, "labelFlush": false, "labelOverlap": false, "labelBound": false, "grid": false, "title": "Cumulative Water Recovery", "titleFontSize": 28, "titleFontWeight": "normal", "titleColor": "black", "titlePadding": 5}},
          "y": {"field": "y", "type": "quantitative", "scale": {"domain": [-0.1, 2.1], "nice": false, "zero": false}, "axis": null},
          "shape": {"field": "Vt", "type": "nominal", "scale": {"domain": ["Vt: 4.7", "Vt: 5.1", "Vt: 5.5"], "range": ["circle", "triangle-up", "square"]}, "legend": null}}}
       ]},
      {"width": 256, "height": 372, "data": {"name": "f5"}, "transform": [{"filter": "datum.p == 'D'"}],
       "layer": [
        {"transform": [{"filter": "datum.Jg == 'Jg: 0.4'"}], "mark": {"type": "rule", "color": "#4d4d4d", "strokeWidth": 1},
         "encoding": {
          "x": {"field": "x", "type": "quantitative", "scale": {"domain": [-0.75, 15.75], "nice": false, "zero": false}, "axis": {"values": [0,5,10,15], "labelExpr": "datum.value + '%'", "domain": true, "domainColor": "black", "domainWidth": 3, "tickColor": "#333333", "tickWidth": 2, "tickSize": 8, "labelFontSize": 21, "labelColor": "#4d4d4d", "labelPadding": 3, "labelFlush": false, "labelOverlap": false, "labelBound": false, "grid": false, "title": null}},
          "y": {"field": "ylo", "type": "quantitative", "scale": {"domain": [-0.1, 2.1], "nice": false, "zero": false}, "axis": null},
          "y2": {"field": "yhi"}}},
        {"transform": [{"filter": "datum.Jg != 'Jg: 0.4'"}], "mark": {"type": "rule", "color": "#6e6e6e", "strokeWidth": 1, "strokeDash": [2, 2]},
         "encoding": {
          "x": {"field": "x", "type": "quantitative", "scale": {"domain": [-0.75, 15.75], "nice": false, "zero": false}, "axis": {"values": [0,5,10,15], "labelExpr": "datum.value + '%'", "domain": true, "domainColor": "black", "domainWidth": 3, "tickColor": "#333333", "tickWidth": 2, "tickSize": 8, "labelFontSize": 21, "labelColor": "#4d4d4d", "labelPadding": 3, "labelFlush": false, "labelOverlap": false, "labelBound": false, "grid": false, "title": null}},
          "y": {"field": "ylo", "type": "quantitative", "scale": {"domain": [-0.1, 2.1], "nice": false, "zero": false}, "axis": null},
          "y2": {"field": "yhi"}}},
        {"mark": {"type": "rule", "color": "#9a9a9a", "strokeWidth": 1.5},
         "encoding": {
          "x": {"field": "xlo", "type": "quantitative", "scale": {"domain": [-0.75, 15.75], "nice": false, "zero": false}, "axis": {"values": [0,5,10,15], "labelExpr": "datum.value + '%'", "domain": true, "domainColor": "black", "domainWidth": 3, "tickColor": "#333333", "tickWidth": 2, "tickSize": 8, "labelFontSize": 21, "labelColor": "#4d4d4d", "labelPadding": 3, "labelFlush": false, "labelOverlap": false, "labelBound": false, "grid": false, "title": null}},
          "x2": {"field": "xhi"},
          "y": {"field": "y", "type": "quantitative", "scale": {"domain": [-0.1, 2.1], "nice": false, "zero": false}, "axis": null}}},
        {"mark": {"type": "line", "color": "#666666", "strokeWidth": 2},
         "encoding": {
          "x": {"field": "x", "type": "quantitative", "scale": {"domain": [-0.75, 15.75], "nice": false, "zero": false}, "axis": {"values": [0,5,10,15], "labelExpr": "datum.value + '%'", "domain": true, "domainColor": "black", "domainWidth": 3, "tickColor": "#333333", "tickWidth": 2, "tickSize": 8, "labelFontSize": 21, "labelColor": "#4d4d4d", "labelPadding": 3, "labelFlush": false, "labelOverlap": false, "labelBound": false, "grid": false, "title": null}},
          "y": {"field": "y", "type": "quantitative", "scale": {"domain": [-0.1, 2.1], "nice": false, "zero": false}, "axis": null},
          "strokeDash": {"field": "Jg", "type": "nominal", "scale": {"domain": ["Jg: 0.4", "Jg: 0.45", "Jg: 0.5"], "range": [[1, 0], [4, 4], [12, 6]]}, "legend": null},
          "detail": {"field": "Vt"}}},
        {"mark": {"type": "point", "filled": true, "color": "black", "size": 85, "opacity": 1},
         "encoding": {
          "x": {"field": "x", "type": "quantitative", "scale": {"domain": [-0.75, 15.75], "nice": false, "zero": false}, "axis": {"values": [0,5,10,15], "labelExpr": "datum.value + '%'", "domain": true, "domainColor": "black", "domainWidth": 3, "tickColor": "#333333", "tickWidth": 2, "tickSize": 8, "labelFontSize": 21, "labelColor": "#4d4d4d", "labelPadding": 3, "labelFlush": false, "labelOverlap": false, "labelBound": false, "grid": false, "title": null}},
          "y": {"field": "y", "type": "quantitative", "scale": {"domain": [-0.1, 2.1], "nice": false, "zero": false}, "axis": null},
          "shape": {"field": "Vt", "type": "nominal", "scale": {"domain": ["Vt: 4.7", "Vt: 5.1", "Vt: 5.5"], "range": ["circle", "triangle-up", "square"]}, "legend": null}}}
       ]},
      {"width": 256, "height": 372, "data": {"name": "f5"}, "transform": [{"filter": "datum.p == 'E'"}],
       "layer": [
        {"transform": [{"filter": "datum.Jg == 'Jg: 0.4'"}], "mark": {"type": "rule", "color": "#4d4d4d", "strokeWidth": 1},
         "encoding": {
          "x": {"field": "x", "type": "quantitative", "scale": {"domain": [-0.75, 15.75], "nice": false, "zero": false}, "axis": {"values": [0,5,10,15], "labelExpr": "datum.value + '%'", "domain": true, "domainColor": "black", "domainWidth": 3, "tickColor": "#333333", "tickWidth": 2, "tickSize": 8, "labelFontSize": 21, "labelColor": "#4d4d4d", "labelPadding": 3, "labelFlush": false, "labelOverlap": false, "labelBound": false, "grid": false, "title": null}},
          "y": {"field": "ylo", "type": "quantitative", "scale": {"domain": [-0.1, 2.1], "nice": false, "zero": false}, "axis": null},
          "y2": {"field": "yhi"}}},
        {"transform": [{"filter": "datum.Jg != 'Jg: 0.4'"}], "mark": {"type": "rule", "color": "#6e6e6e", "strokeWidth": 1, "strokeDash": [2, 2]},
         "encoding": {
          "x": {"field": "x", "type": "quantitative", "scale": {"domain": [-0.75, 15.75], "nice": false, "zero": false}, "axis": {"values": [0,5,10,15], "labelExpr": "datum.value + '%'", "domain": true, "domainColor": "black", "domainWidth": 3, "tickColor": "#333333", "tickWidth": 2, "tickSize": 8, "labelFontSize": 21, "labelColor": "#4d4d4d", "labelPadding": 3, "labelFlush": false, "labelOverlap": false, "labelBound": false, "grid": false, "title": null}},
          "y": {"field": "ylo", "type": "quantitative", "scale": {"domain": [-0.1, 2.1], "nice": false, "zero": false}, "axis": null},
          "y2": {"field": "yhi"}}},
        {"mark": {"type": "rule", "color": "#9a9a9a", "strokeWidth": 1.5},
         "encoding": {
          "x": {"field": "xlo", "type": "quantitative", "scale": {"domain": [-0.75, 15.75], "nice": false, "zero": false}, "axis": {"values": [0,5,10,15], "labelExpr": "datum.value + '%'", "domain": true, "domainColor": "black", "domainWidth": 3, "tickColor": "#333333", "tickWidth": 2, "tickSize": 8, "labelFontSize": 21, "labelColor": "#4d4d4d", "labelPadding": 3, "labelFlush": false, "labelOverlap": false, "labelBound": false, "grid": false, "title": null}},
          "x2": {"field": "xhi"},
          "y": {"field": "y", "type": "quantitative", "scale": {"domain": [-0.1, 2.1], "nice": false, "zero": false}, "axis": null}}},
        {"mark": {"type": "line", "color": "#666666", "strokeWidth": 2},
         "encoding": {
          "x": {"field": "x", "type": "quantitative", "scale": {"domain": [-0.75, 15.75], "nice": false, "zero": false}, "axis": {"values": [0,5,10,15], "labelExpr": "datum.value + '%'", "domain": true, "domainColor": "black", "domainWidth": 3, "tickColor": "#333333", "tickWidth": 2, "tickSize": 8, "labelFontSize": 21, "labelColor": "#4d4d4d", "labelPadding": 3, "labelFlush": false, "labelOverlap": false, "labelBound": false, "grid": false, "title": null}},
          "y": {"field": "y", "type": "quantitative", "scale": {"domain": [-0.1, 2.1], "nice": false, "zero": false}, "axis": null},
          "strokeDash": {"field": "Jg", "type": "nominal", "scale": {"domain": ["Jg: 0.4", "Jg: 0.45", "Jg: 0.5"], "range": [[1, 0], [4, 4], [12, 6]]}, "legend": null},
          "detail": {"field": "Vt"}}},
        {"mark": {"type": "point", "filled": true, "color": "black", "size": 85, "opacity": 1},
         "encoding": {
          "x": {"field": "x", "type": "quantitative", "scale": {"domain": [-0.75, 15.75], "nice": false, "zero": false}, "axis": {"values": [0,5,10,15], "labelExpr": "datum.value + '%'", "domain": true, "domainColor": "black", "domainWidth": 3, "tickColor": "#333333", "tickWidth": 2, "tickSize": 8, "labelFontSize": 21, "labelColor": "#4d4d4d", "labelPadding": 3, "labelFlush": false, "labelOverlap": false, "labelBound": false, "grid": false, "title": null}},
          "y": {"field": "y", "type": "quantitative", "scale": {"domain": [-0.1, 2.1], "nice": false, "zero": false}, "axis": null},
          "shape": {"field": "Vt", "type": "nominal", "scale": {"domain": ["Vt: 4.7", "Vt: 5.1", "Vt: 5.5"], "range": ["circle", "triangle-up", "square"]}, "legend": null}}}
       ]}
    ]},
    {"width": 1340, "height": 562, "mark": "point"}
  ]},
  {"width": 1366, "height": 661, "mark": "point"},
  {"width": 2, "height": 661, "mark": "point", "view": {"fill": "#3a3a3a"}}
]},
{"width": 1784, "height": 661, "mark": "point"},
{"bounds": "flush", "hconcat": [{"width": 141, "height": 2, "mark": "point"}, {"width": 1503, "height": 2, "mark": "point", "view": {"fill": "#3a3a3a"}}]},
{"width": 1784, "height": 36, "mark": "point"},
{"bounds": "flush", "hconcat": [{"width": 141, "height": 36, "mark": "point"},
  {"width": 1, "height": 36, "data": {"values": [
    {"col": 0, "line": 1, "t": "Figure 5. Quartz recovery against water recovery at all the process conditions (Vt = impeller tip speed, Jg = superficial gas"},
    {"col": 0, "line": 2, "t": "velocity, Frother = MIBC concentration, and Collector = PAX concentration)"}]},
   "mark": {"type": "text", "align": "left", "baseline": "middle", "font": "Liberation Serif", "fontWeight": "bold", "fontSize": 27.5, "color": "#231f20"},
   "encoding": {"x": {"field": "col", "type": "quantitative", "scale": {"domain": [0, 1], "nice": false, "zero": false}, "axis": null},
                "y": {"field": "line", "type": "quantitative", "scale": {"domain": [1, 2], "reverse": true, "nice": false, "zero": false}, "axis": null},
                "text": {"field": "t"}}}
]},
{"width": 1784, "height": 109, "mark": "point"},
{"bounds": "flush", "hconcat": [{"width": 141, "height": 416, "mark": "point"},
  {"width": 778, "height": 416, "data": {"values": [
    {"col": 0, "line": 1, "t": "opposite trend was observed. At low frother (30 g/t), high"},
    {"col": 0, "line": 2, "t": "collector (50 g/t), and low Jg (0.4 cm/s) conditions, increase"},
    {"col": 0, "line": 3, "t": "in Vt from 4.7 m/s to 5.5 m/s did not show any significant"},
    {"col": 0, "line": 4, "t": "change in entrainment flow for the first three concentrates."},
    {"col": 0, "line": 5, "t": "For the fourth concentrate, quartz and water recovery was"},
    {"col": 0, "line": 6, "t": "found to be higher at lower Vt (4.7 m/s)."},
    {"col": 0, "line": 7, "t": "\u200b\u2003\u2002\u2009The effect of frother concentration observed, was"},
    {"col": 0, "line": 8, "t": "also mixed depending on the other levels of other vari-"},
    {"col": 0, "line": 9, "t": "ables. At low collector concentration (20 g/t) and with"},
    {"col": 0, "line": 10, "t": "lower Vt (4.7 m/s), increase in frother concentration from"},
    {"col": 0, "line": 11, "t": "30 to 60 g/t, resulted in a decrease in entrainment flow"},
    {"col": 0, "line": 12, "t": "at both, low (0.4 cm/s) and high (0.5 cm/s) Jg values. On"},
    {"col": 1, "line": 1, "t": "the other hand, at higher Vt (5.5 m/s) and low collector"},
    {"col": 1, "line": 2, "t": "(20 g/t), an increase in the frother concentration showed a"},
    {"col": 1, "line": 3, "t": "significant increase in quartz and water recoveries for both"},
    {"col": 1, "line": 4, "t": "Jg values. The results for the effect of frother concentra-"},
    {"col": 1, "line": 5, "t": "tion at higher collector concentration (50 g/t), was more"},
    {"col": 1, "line": 6, "t": "complicated. Here, increase in frother concentration pro-"},
    {"col": 1, "line": 7, "t": "moted the entrainment flow at both levels of Vt for higher"},
    {"col": 1, "line": 8, "t": "Jg (0.5 cm/s) values, while had the opposite reducing effect"},
    {"col": 1, "line": 9, "t": "at both levels of Vt for lower Jg (0.4 cm/s) values."},
    {"col": 1, "line": 10, "t": "\u200b\u2003\u2002\u2009Finally, increase in collector concentration from 20 to"},
    {"col": 1, "line": 11, "t": "50 g/t resulted in higher entrainment flow at low frother"},
    {"col": 1, "line": 12, "t": "concentration (30 g/t) and high Vt (5.5 m/s), for both"}]},
   "mark": {"type": "text", "align": "left", "baseline": "middle", "font": "Liberation Serif", "fontSize": 30, "color": "#231f20"},
   "encoding": {"x": {"field": "col", "type": "quantitative", "scale": {"domain": [0, 1], "nice": false, "zero": false}, "axis": null},
                "y": {"field": "line", "type": "quantitative", "scale": {"domain": [1, 12], "reverse": true, "nice": false, "zero": false}, "axis": null},
                "text": {"field": "t"}}}
]},
{"width": 1784, "height": 514, "mark": "point"},
{"bounds": "flush", "hconcat": [{"width": 141, "height": 10, "mark": "point"},
  {"width": 1503, "height": 10, "data": {"values": [
    {"col": 0, "line": 1, "t": "2894"},
    {"col": 1, "line": 1, "t": "XXXI International Mineral Processing Congress 2024 Proceedings/Washington, DC/Sep 29-Oct 3"}]},
   "encoding": {"x": {"field": "col", "type": "quantitative", "scale": {"domain": [0, 1], "nice": false, "zero": false}, "axis": null},
                "y": {"field": "line", "type": "quantitative", "scale": {"domain": [1, 2], "reverse": true, "nice": false, "zero": false}, "axis": null},
                "text": {"field": "t"}},
   "layer": [
    {"transform": [{"filter": "datum.col == 0"}], "mark": {"type": "text", "align": "left", "baseline": "middle", "font": "Liberation Serif", "fontWeight": "bold", "fontSize": 26, "color": "#231f20"}},
    {"transform": [{"filter": "datum.col == 1"}], "mark": {"type": "text", "align": "right", "baseline": "middle", "font": "Roboto", "fontWeight": "bold", "fontSize": 26.5, "color": "#2F8F3F"}}
   ]}
]},
{"width": 1784, "height": 138, "mark": "point"}
]
}
